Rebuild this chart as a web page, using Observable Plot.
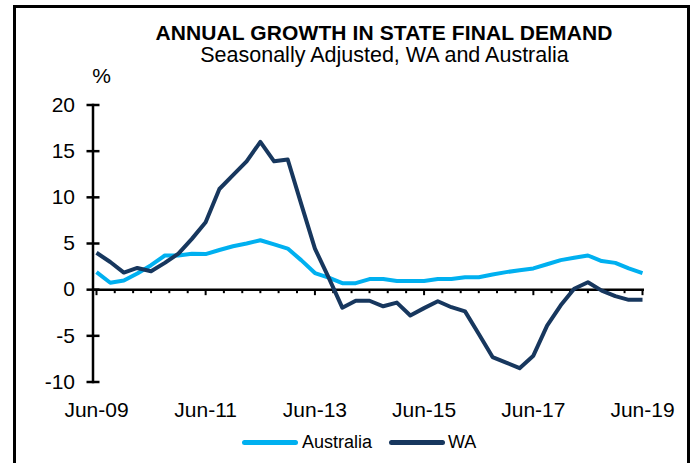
<!DOCTYPE html>
<html>
<head>
<meta charset="utf-8">
<script src="https://cdn.jsdelivr.net/npm/d3@7"></script>
<script src="https://cdn.jsdelivr.net/npm/@observablehq/plot@0.6"></script>
<style>
  html, body { margin: 0; padding: 0; background: #fff; }
  #wrap { position: relative; width: 692px; height: 463px; overflow: hidden; background: #fff;
          font-family: "Liberation Sans", Arial, sans-serif; color: #000; }
  #frame { position: absolute; left: 13px; top: 5px; width: 677px; height: 520px;
           border: 3px solid #000; box-sizing: border-box; }
  #title { position: absolute; left: 0; width: 768px; top: 22px; text-align: center;
           font-size: 21px; line-height: 21px; font-weight: bold; letter-spacing: 0.1px; white-space: nowrap; }
  #subtitle { position: absolute; left: 0; width: 769px; top: 44.5px; text-align: center;
           font-size: 21.5px; line-height: 21.5px; white-space: nowrap; }
  #chart { position: absolute; left: 0; top: 66px; }
  #legend { position: absolute; left: 0; top: 432px; height: 20px; width: 692px; font-size: 18px; line-height: 20px; }
  .sw { position: absolute; top: 8px; height: 4.5px; border-radius: 2.5px; }
  .lb { position: absolute; top: 0; white-space: nowrap; }
</style>
</head>
<body>
<div id="wrap">
  <div id="frame"></div>
  <div id="title">ANNUAL GROWTH IN STATE FINAL DEMAND</div>
  <div id="subtitle">Seasonally Adjusted, WA and Australia</div>
  <div id="chart"></div>
  <div id="legend">
    <span class="sw" style="left:242px;width:56px;background:#00B0F0"></span>
    <span class="lb" style="left:302px">Australia</span>
    <span class="sw" style="left:389px;width:56px;background:#17375E"></span>
    <span class="lb" style="left:448px">WA</span>
  </div>
</div>
<script>
// Quarterly periods
const quarters = [
  "Jun-09","Sep-09","Dec-09","Mar-10","Jun-10","Sep-10","Dec-10","Mar-11","Jun-11","Sep-11",
  "Dec-11","Mar-12","Jun-12","Sep-12","Dec-12","Mar-13","Jun-13","Sep-13","Dec-13","Mar-14",
  "Jun-14","Sep-14","Dec-14","Mar-15","Jun-15","Sep-15","Dec-15","Mar-16","Jun-16","Sep-16",
  "Dec-16","Mar-17","Jun-17","Sep-17","Dec-17","Mar-18","Jun-18","Sep-18","Dec-18","Mar-19","Jun-19"
];
// Annual growth, %
const australia = [
  1.9, 0.75, 1.0, 1.75, 2.65, 3.7, 3.7, 3.9, 3.85, 4.3,
  4.7, 5.0, 5.35, 4.9, 4.45, 3.2, 1.8, 1.3, 0.7, 0.7,
  1.15, 1.15, 0.95, 0.95, 0.95, 1.15, 1.15, 1.35, 1.35, 1.65,
  1.9, 2.1, 2.3, 2.75, 3.2, 3.45, 3.7, 3.1, 2.9, 2.3, 1.8
];
const wa = [
  4.0, 3.0, 1.85, 2.35, 2.0, 2.9, 3.9, 5.5, 7.3, 10.9,
  12.4, 13.9, 16.0, 13.9, 14.1, 9.3, 4.45, 1.3, -1.95, -1.2,
  -1.2, -1.8, -1.4, -2.8, -2.0, -1.25, -1.9, -2.35, -4.8, -7.3,
  -7.9, -8.5, -7.15, -3.9, -1.7, 0.1, 0.8, -0.1, -0.7, -1.1, -1.1
];
const yTicks = [-10, -5, 0, 5, 10, 15, 20];
const xTickLabels = ["Jun-09", "Jun-11", "Jun-13", "Jun-15", "Jun-17", "Jun-19"];
const seriesNames = ["Australia", "WA"];
const seriesColors = ["#00B0F0", "#17375E"];

const parse = d3.utcParse("%b-%y");
const fmt = d3.utcFormat("%b-%y");
const dates = quarters.map(parse);
const rows = [
  ...dates.map((d, i) => ({date: d, value: australia[i], series: "Australia"})),
  ...dates.map((d, i) => ({date: d, value: wa[i], series: "WA"}))
];
const xTickDates = xTickLabels.map(parse);
// axis tick marks every 4 months, longer ones every 2 years
const allTicks = d3.range(31).map(k => d3.utcMonth.offset(dates[0], 4 * k));
const majorTicks = allTicks.filter((d, k) => k % 6 === 0);
const minorTicks = allTicks.filter((d, k) => k % 6 !== 0);

const chart = Plot.plot({
  width: 692,
  height: 361,
  marginTop: 38.5,
  marginBottom: 45.5,
  marginLeft: 92.5,
  marginRight: 48,
  style: {fontFamily: "'Liberation Sans', Arial, sans-serif", fontSize: "21px", color: "#000", background: "transparent", overflow: "visible"},
  x: {type: "utc", domain: [dates[0], dates[dates.length - 1]], insetLeft: 3.5, insetRight: 2},
  y: {domain: [-10, 20]},
  color: {domain: seriesNames, range: seriesColors},
  marks: [
    Plot.axisX(xTickDates, {tickSize: 0, tickPadding: 20, tickFormat: fmt, label: null, fill: "#000", fontSize: 21}),
    Plot.axisY(yTicks, {tickSize: 13, dx: 7, tickPadding: 12, tickFormat: d => String(d), label: null,
                        stroke: "#000", strokeWidth: 2.5, fill: "#000", fontSize: 21}),
    Plot.ruleY([0], {stroke: "#000", strokeWidth: 2.5}),
    Plot.ruleX(minorTicks, {x: d => d, y1: 0, y2: 0, insetBottom: -4, stroke: "#000", strokeWidth: 2}),
    Plot.ruleX(majorTicks, {x: d => d, y1: 0, y2: 0, insetBottom: -6, stroke: "#000", strokeWidth: 2}),
    Plot.frame({anchor: "left", stroke: "#000", strokeWidth: 2.5}),
    Plot.line(rows, {x: "date", y: "value", z: "series", stroke: "series", strokeWidth: 4,
                     strokeLinejoin: "round", strokeLinecap: "butt"}),
    Plot.text(["%"], {frameAnchor: "top-left", dx: 8.5, dy: -28.5, textAnchor: "middle", lineAnchor: "middle",
                      fontSize: 21, fill: "#000"})
  ]
});
document.getElementById("chart").appendChild(chart);
</script>
</body>
</html>
